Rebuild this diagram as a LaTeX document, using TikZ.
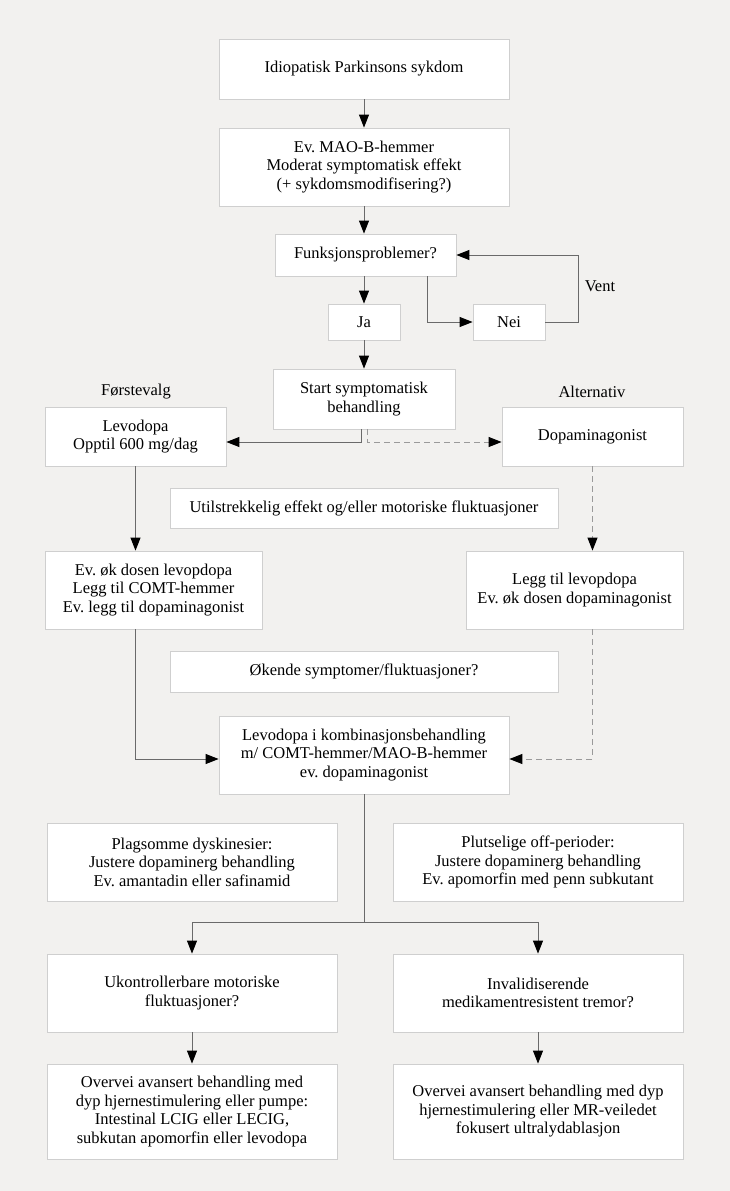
\documentclass[tikz,border=0pt]{standalone}
\usepackage{fontspec}
\setmainfont{Liberation Serif}
\usetikzlibrary{arrows.meta,calc}
\definecolor{bgc}{HTML}{F2F1EF}
\definecolor{bordc}{HTML}{CFCFCF}
\definecolor{linec}{HTML}{6A6A6A}
\definecolor{dashc}{HTML}{9A9A9A}
\frenchspacing
\tikzset{
  box/.style={draw=bordc, line width=0.8pt, fill=white, align=center, inner sep=2pt,
    font=\fontsize{16.5}{18.5}\selectfont},
  lbl/.style={font=\fontsize{16.5}{18.5}\selectfont, inner sep=0pt},
  arr/.style={draw=linec, line width=1pt, -{Triangle[length=13pt,width=10pt,color=black]}},
  plain/.style={draw=linec, line width=1pt},
  darr/.style={draw=dashc, line width=1pt, dash pattern=on 6pt off 4pt, -{Triangle[length=13pt,width=10pt,color=black]}}
}
\begin{document}
\begin{tikzpicture}[x=1pt,y=-1pt]
\fill[bgc] (0,0) rectangle (730,1191);
\useasboundingbox (0,0) rectangle (730,1191);

\node[box, minimum width=290, minimum height=60] (b1) at (364,69) {Idiopatisk Parkinsons sykdom};
\node[box, minimum width=290, minimum height=78] (b2) at (364,167) {Ev. MAO-B-hemmer\\Moderat symptomatisk effekt\\(+ sykdomsmodifisering?)};
\node[box, minimum width=181, minimum height=42] (b3) at (365.5,255) {Funksjonsproblemer?};
\node[box, minimum width=72, minimum height=36] (ja) at (364,322) {Ja};
\node[box, minimum width=72, minimum height=36] (nei) at (509,322) {Nei};
\node[lbl] (vent) at (600,286) {Vent};
\node[box, minimum width=182, minimum height=60] (start) at (364,399) {Start symptomatisk\\behandling};
\node[lbl] (forst) at (136,392) {Førstevalg};
\node[lbl] (alt) at (592,392) {Alternativ};
\node[box, minimum width=181, minimum height=59] (levo) at (135.5,436.5) {Levodopa\\Opptil 600 mg/dag};
\node[box, minimum width=181, minimum height=59] (dopa) at (592.5,436.5) {Dopaminagonist};
\node[box, minimum width=388, minimum height=40] (util) at (364,508) {Utilstrekkelig effekt og/eller motoriske fluktuasjoner};
\node[box, minimum width=217, minimum height=78] (evok) at (153.5,590) {Ev. øk dosen levopdopa\\Legg til COMT-hemmer\\Ev. legg til dopaminagonist};
\node[box, minimum width=217, minimum height=78] (legg) at (574.5,590) {Legg til levopdopa\\Ev. øk dosen dopaminagonist};
\node[box, minimum width=388, minimum height=41] (oke) at (364,671.5) {Økende symptomer/fluktuasjoner?};
\node[box, minimum width=290, minimum height=78] (komb) at (364,755) {Levodopa i kombinasjonsbehandling\\m/ COMT-hemmer/MAO-B-hemmer\\ev. dopaminagonist};
\node[box, minimum width=290, minimum height=78] (plag) at (192,862) {Plagsomme dyskinesier:\\Justere dopaminerg behandling\\Ev. amantadin eller safinamid};
\node[box, minimum width=290, minimum height=78] (plut) at (538,862) {Plutselige off-perioder:\\Justere dopaminerg behandling\\Ev. apomorfin med penn subkutant};
\node[box, minimum width=290, minimum height=78] (ukon) at (192,993) {Ukontrollerbare motoriske\\fluktuasjoner?};
\node[box, minimum width=290, minimum height=78] (inval) at (538,993) {Invalidiserende\\medikamentresistent tremor?};
\node[box, minimum width=290, minimum height=95] (over1) at (192,1111.5) {Overvei avansert behandling med\\dyp hjernestimulering eller pumpe:\\Intestinal LCIG eller LECIG,\\subkutan apomorfin eller levodopa};
\node[box, minimum width=290, minimum height=95] (over2) at (538,1111.5) {Overvei avansert behandling med dyp\\hjernestimulering eller MR-veiledet\\fokusert ultralydablasjon};

\coordinate (sy) at (0,442);
\coordinate (ky) at (0,759);
\coordinate (jn) at (364,922);

\draw[arr] (b1.south) -- (b2.north);
\draw[arr] (b2.south) -- (b2.south |- b3.north);
\draw[arr] (b3.south -| ja.north) -- (ja.north);
\draw[arr] ([xshift=61.5pt]b3.south) |- (nei.west);
\draw[arr] (nei.east) -- ++(33,0) |- (b3.east);
\draw[arr] (ja.south) -- (start.north);
\draw[arr] ([xshift=-3pt]start.south) |- (levo.east |- sy);
\draw[darr] ([xshift=3pt]start.south) |- (dopa.west |- sy);
\draw[arr] (levo.south) -- (levo.south |- evok.north);
\draw[darr] (dopa.south) -- (dopa.south |- legg.north);
\draw[arr] (levo.south |- evok.south) |- (komb.west |- ky);
\draw[darr] (dopa.south |- legg.south) |- (komb.east |- ky);
\draw[plain] (komb.south) -- (jn);
\draw[arr] (jn) -| (ukon.north);
\draw[arr] (jn) -| (inval.north);
\draw[arr] (ukon.south) -- (over1.north);
\draw[arr] (inval.south) -- (over2.north);
\end{tikzpicture}
\end{document}
